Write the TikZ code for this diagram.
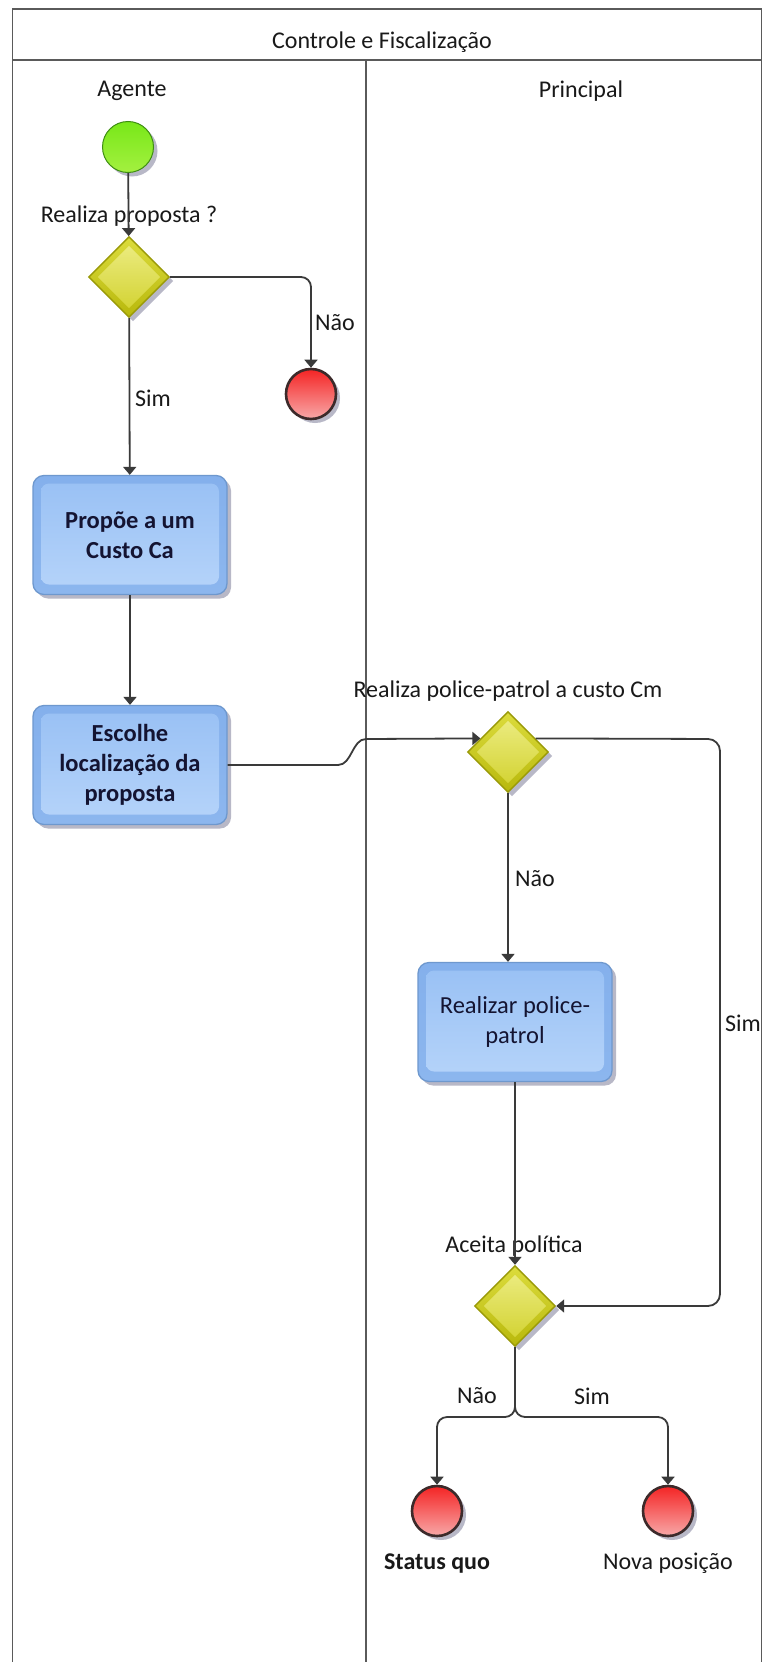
\documentclass[tikz,border=0pt]{standalone}
\usepackage{fontspec}
\setmainfont{Carlito}
\usetikzlibrary{shapes.geometric,arrows.meta,shadows,calc}
\definecolor{lanec}{HTML}{5A5A5A}
\definecolor{connc}{HTML}{3A3A3A}
\definecolor{gateb}{HTML}{9A9A08}
\definecolor{gatet}{HTML}{DCDC3C}
\definecolor{gatebot}{HTML}{B8B80C}
\definecolor{gateint}{HTML}{EEEE88}
\definecolor{gateinb}{HTML}{D0D02A}
\definecolor{taskb}{HTML}{6E98CE}
\definecolor{taskt}{HTML}{84B0EC}
\definecolor{taskbot}{HTML}{8CB6EE}
\definecolor{taskint}{HTML}{98C0F4}
\definecolor{taskinb}{HTML}{B6D4FA}
\definecolor{tasktext}{HTML}{141432}
\definecolor{endb}{HTML}{3C2A2A}
\definecolor{endt}{HTML}{F42424}
\definecolor{endbot}{HTML}{F8A8A8}
\definecolor{startb}{HTML}{3E8E12}
\definecolor{startt}{HTML}{78E818}
\definecolor{startbot}{HTML}{A4F040}
\definecolor{shadc}{HTML}{9A9AB0}
\begin{document}
\begin{tikzpicture}[x=1pt,y=-1pt,
  lane/.style={draw=lanec, line width=1.5pt},
  conn/.style={draw=connc, line width=1.8pt, -{Triangle[width=13pt,length=8pt]}},
  shad/.style={drop shadow={shadow xshift=4pt, shadow yshift=-4pt, fill=shadc, opacity=0.7}},
  gate/.style={diamond, aspect=1, minimum width=81pt, minimum height=81pt, inner sep=0pt,
    draw=gateb, line width=1.4pt, top color=gatet, bottom color=gatebot, shad,
    path picture={\shade[top color=gateint, bottom color=gateinb]
      ($(path picture bounding box.north)+(0,9)$) -- ($(path picture bounding box.east)+(-9,0)$)
      -- ($(path picture bounding box.south)+(0,-9)$) -- ($(path picture bounding box.west)+(9,0)$) -- cycle;}},
  task/.style={rectangle, rounded corners=11pt, minimum width=194pt, minimum height=119pt,
    draw=taskb, line width=1.3pt, top color=taskt, bottom color=taskbot, align=center,
    text=tasktext, font=\fontsize{24.5}{30}\selectfont, shad,
    path picture={\shade[top color=taskint, bottom color=taskinb, rounded corners=8pt]
      ($(path picture bounding box.north west)+(8,8)$) rectangle ($(path picture bounding box.south east)+(-8,-10)$);}},
  endev/.style={circle, minimum size=50pt, inner sep=0pt, draw=endb, line width=2.6pt,
    top color=endt, bottom color=endbot, shad},
  startev/.style={circle, minimum size=51pt, inner sep=0pt, draw=startb, line width=1pt,
    top color=startt, bottom color=startbot, shad},
  lbl/.style={font=\fontsize{24}{28}\selectfont, text=black!90, inner sep=0pt}
]
\useasboundingbox (0,0) rectangle (763,1662);
\fill[white] (0,0) rectangle (763,1662);
% frame and lanes
\draw[lane] (12.7,1662) -- (12.7,9) -- (761.5,9) -- (761.5,1662);
\draw[lane] (12.7,60) -- (761.5,60);
\draw[lane] (366,60) -- (366,1662);
\node[lbl] (title) at (382,42) {Controle e Fiscalização};
\node[lbl] (lagente) at (132,91) {Agente};
\node[lbl] (lprincipal) at (581,91) {Principal};

% nodes
\node[startev] (start) at (128,147) {};
\node[gate] (d1) at (129,277) {};
\node[endev] (e1) at (311,394) {};
\node[task, font=\fontsize{24.5}{30}\selectfont\bfseries] (t1) at (130,535) {Propõe a um\\Custo Ca};
\node[task, font=\fontsize{24.5}{30}\selectfont\bfseries] (t2) at (130,765) {Escolhe\\localização da\\proposta};
\node[gate] (d2) at (508,752) {};
\node[task] (t3) at (515,1022) {Realizar police-\\patrol};
\node[gate] (d3) at (515,1306) {};
\node[endev] (e2) at (437,1511) {};
\node[endev] (e3) at (668,1511) {};

% labels
\node[lbl] (q1) at (129,216) {Realiza proposta ?};
\node[lbl, anchor=west] (nao1) at (315,323) {Não};
\node[lbl, anchor=west] (sim1) at (135,398) {Sim};
\node[lbl] (q2) at (508,691) {Realiza police-patrol a custo Cm};
\node[lbl, anchor=west] (nao2) at (515,879) {Não};
\node[lbl, anchor=west] (sim2) at (725,1023) {Sim};
\node[lbl] (q3) at (514,1246) {Aceita política};
\node[lbl] (nao3) at (477,1396) {Não};
\node[lbl] (sim3) at (592,1396) {Sim};
\node[lbl, font=\fontsize{24}{28}\selectfont\bfseries] (lsq) at (437,1563) {Status quo};
\node[lbl] (lnp) at (668,1563) {Nova posição};

% connectors
\draw[conn] (start) -- (d1);
\draw[conn, rounded corners=10pt] (d1.east) -| (e1.north);
\draw[conn] (d1) -- (t1);
\draw[conn] (t1) -- (t2);
\coordinate (d2in) at ($(d2.west)!0.33!(d2.north)$);
\coordinate (d2out) at ($(d2.east)!0.33!(d2.north)$);
\draw[conn] (t2.east) -- (338,765) .. controls (352,765) and (352,739) .. (366,739) -- (d2in);
\draw[conn, rounded corners=12pt] (d2out) -- (720,739) -- (720,1306) -- (d3.east);
\draw[conn] (d2.south) -- (d2.south |- t3.north);
\draw[conn] (t3) -- (d3);
\draw[conn, rounded corners=10pt] (d3.south) -- (515,1417) -| (e2.north);
\draw[conn, rounded corners=10pt] (d3.south) -- (515,1417) -| (e3.north);
\end{tikzpicture}
\end{document}
